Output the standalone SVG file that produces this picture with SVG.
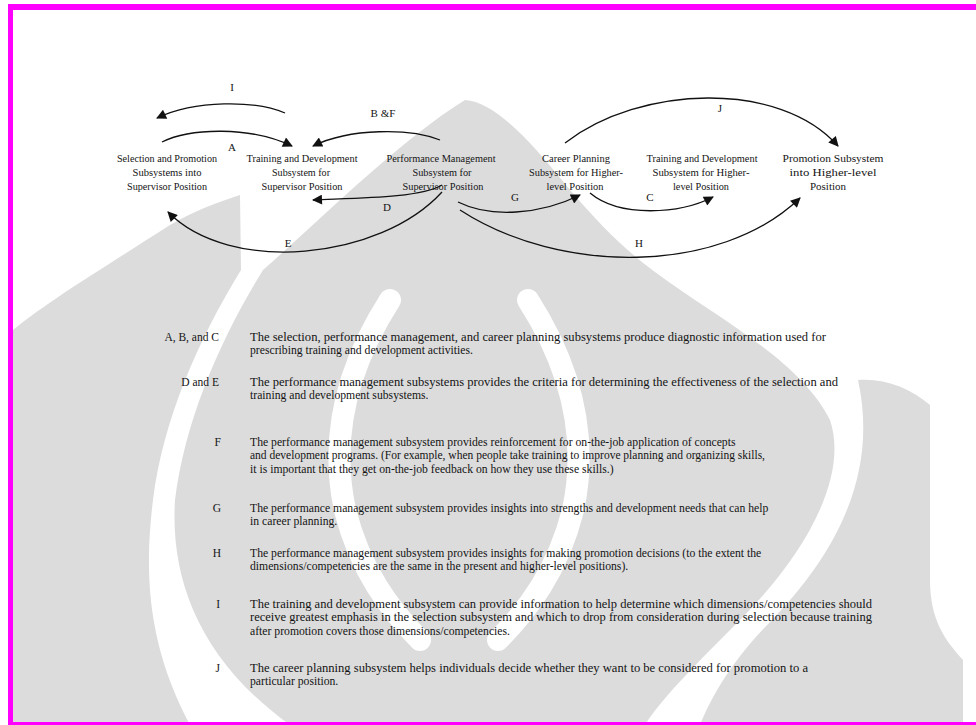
<svg xmlns="http://www.w3.org/2000/svg" width="976" height="725" viewBox="0 0 976 725">
  <style>
    .nl { font-family: "Liberation Serif", "Times New Roman", serif; font-size: 10.5px; fill: #141414; text-anchor: middle; }
    .cl { font-family: "Liberation Serif", "Times New Roman", serif; font-size: 11px; fill: #141414; text-anchor: middle; }
    .key { font-family: "Liberation Serif", "Times New Roman", serif; font-size: 11.5px; fill: #141414; text-anchor: end; }
    .txt { font-family: "Liberation Serif", "Times New Roman", serif; font-size: 11.7px; fill: #141414; }
    .edge { fill: none; stroke: #111; stroke-width: 1.3; marker-end: url(#ah); }
    .wm { fill: #dcdcdc; }
    .cut { fill: none; stroke: #ffffff; stroke-width: 22; stroke-linecap: round; }
    .frame { fill: #ff00ff; }
  </style>
  <defs>
    <marker id="ah" viewBox="0 0 10 10" refX="9" refY="5" markerWidth="12" markerHeight="10" markerUnits="userSpaceOnUse" orient="auto">
      <path d="M0,0 L10,5 L0,10 z" fill="#111"/>
    </marker>
  </defs>

  <rect width="976" height="725" fill="#ffffff"/>

  <!-- background emblem: central body, two side wings, inner curls -->
  <g id="emblem">
    <path class="wm" d="M465,100 C495,102 530,140 570,190 C600,225 625,250 655,272 C720,320 800,360 830,420 C850,480 800,560 740,620 C700,660 660,700 645,725 L290,725 C200,660 170,580 175,500 C185,420 220,340 263,270 C320,220 400,140 465,100 Z"/>
    <path class="wm" d="M13,330 C50,300 100,270 170,225 C200,208 225,200 240,195 L241,270 C198,340 163,420 153,500 C143,580 150,650 190,725 L13,725 Z"/>
    <path class="wm" d="M858,380 C880,480 830,560 770,622 C730,662 710,700 700,725 L963,725 L963,660 C945,640 930,620 930,580 L930,405 C910,388 885,378 858,380 Z"/>
    <path class="cut" d="M390,300 C345,370 330,440 345,510 C360,570 390,610 420,640"/>
    <path class="cut" d="M528,300 C573,370 588,440 573,510 C558,570 528,610 498,640"/>
  </g>

  <!-- page frame -->
  <g id="frame">
    <rect class="frame" x="8" y="4" width="968" height="6"/>
    <rect class="frame" x="8" y="4" width="5" height="721"/>
    <rect class="frame" x="8" y="722" width="968" height="3"/>
  </g>

  <!-- connectors -->
  <g id="connectors">
    <path class="edge" d="M285,113 C255,100 195,100 157,118"/>
    <path class="edge" d="M162,142 C190,128 250,126 292,146"/>
    <path class="edge" d="M440,140 C410,128 350,128 313,146"/>
    <path class="edge" d="M442,185 C420,198 360,198 313,200"/>
    <path class="edge" d="M442,192 C380,260 230,275 168,212"/>
    <path class="edge" d="M458,202 C490,218 540,215 580,195"/>
    <path class="edge" d="M590,193 C620,218 680,214 713,197"/>
    <path class="edge" d="M460,210 C560,275 720,275 800,198"/>
    <path class="edge" d="M565,143 C640,85 780,80 838,146"/>
    <text class="cl" x="232" y="91">I</text>
    <text class="cl" x="232" y="151">A</text>
    <text class="cl" x="383" y="117">B &amp;F</text>
    <text class="cl" x="387" y="211">D</text>
    <text class="cl" x="288" y="247">E</text>
    <text class="cl" x="515" y="201">G</text>
    <text class="cl" x="650" y="201">C</text>
    <text class="cl" x="639" y="247">H</text>
    <text class="cl" x="720" y="112">J</text>
  </g>

  <!-- subsystem nodes -->
  <g id="sel-promo-sup">
    <text class="nl" x="167" y="162" textLength="100" lengthAdjust="spacingAndGlyphs">Selection and Promotion</text>
    <text class="nl" x="167" y="176" textLength="69" lengthAdjust="spacingAndGlyphs">Subsystems into</text>
    <text class="nl" x="167" y="190" textLength="80" lengthAdjust="spacingAndGlyphs">Supervisor Position</text>
  </g>
  <g id="td-sup">
    <text class="nl" x="302" y="162" textLength="111" lengthAdjust="spacingAndGlyphs">Training and Development</text>
    <text class="nl" x="301" y="176" textLength="58" lengthAdjust="spacingAndGlyphs">Subsystem for</text>
    <text class="nl" x="302" y="190" textLength="81" lengthAdjust="spacingAndGlyphs">Supervisor Position</text>
  </g>
  <g id="perf-sup">
    <text class="nl" x="441" y="162" textLength="109" lengthAdjust="spacingAndGlyphs">Performance Management</text>
    <text class="nl" x="442" y="176" textLength="59" lengthAdjust="spacingAndGlyphs">Subsystem for</text>
    <text class="nl" x="443" y="190" textLength="81" lengthAdjust="spacingAndGlyphs">Supervisor Position</text>
  </g>
  <g id="career-high">
    <text class="nl" x="576" y="162" textLength="68" lengthAdjust="spacingAndGlyphs">Career Planning</text>
    <text class="nl" x="576" y="176" textLength="94" lengthAdjust="spacingAndGlyphs">Subsystem for Higher-</text>
    <text class="nl" x="575" y="190" textLength="57" lengthAdjust="spacingAndGlyphs">level Position</text>
  </g>
  <g id="td-high">
    <text class="nl" x="702" y="162" textLength="111" lengthAdjust="spacingAndGlyphs">Training and Development</text>
    <text class="nl" x="701" y="176" textLength="97" lengthAdjust="spacingAndGlyphs">Subsystem for Higher-</text>
    <text class="nl" x="701" y="190" textLength="56" lengthAdjust="spacingAndGlyphs">level Position</text>
  </g>
  <g id="promo-high">
    <text class="nl" x="833" y="162" textLength="101" lengthAdjust="spacingAndGlyphs">Promotion Subsystem</text>
    <text class="nl" x="833" y="176" textLength="87" lengthAdjust="spacingAndGlyphs">into Higher-level</text>
    <text class="nl" x="828" y="190" textLength="36" lengthAdjust="spacingAndGlyphs">Position</text>
  </g>

  <!-- key to the connectors -->
  <g id="key">
    <text class="key" x="219" y="341">A, B, and C</text>
    <text class="txt" x="250" y="341" textLength="576" lengthAdjust="spacingAndGlyphs">The selection, performance management, and career planning subsystems produce diagnostic information used for</text>
    <text class="txt" x="250" y="354">prescribing training and development activities.</text>

    <text class="key" x="219" y="386">D and E</text>
    <text class="txt" x="250" y="386" textLength="588" lengthAdjust="spacingAndGlyphs">The performance management subsystems provides the criteria for determining the effectiveness of the selection and</text>
    <text class="txt" x="250" y="399">training and development subsystems.</text>

    <text class="key" x="221" y="446">F</text>
    <text class="txt" x="250" y="446">The performance management subsystem provides reinforcement for on-the-job application of concepts</text>
    <text class="txt" x="250" y="459" textLength="515" lengthAdjust="spacingAndGlyphs">and development programs.  (For example, when people take training to improve planning and organizing skills,</text>
    <text class="txt" x="250" y="473">it is important that they get on-the-job feedback on how they use these skills.)</text>

    <text class="key" x="221" y="512">G</text>
    <text class="txt" x="250" y="512">The performance management subsystem provides insights into strengths and development needs that can help</text>
    <text class="txt" x="250" y="525">in career planning.</text>

    <text class="key" x="221" y="557">H</text>
    <text class="txt" x="250" y="557">The performance management subsystem provides insights for making promotion decisions (to the extent the</text>
    <text class="txt" x="250" y="570">dimensions/competencies are the same in the present and higher-level positions).</text>

    <text class="key" x="220" y="608">I</text>
    <text class="txt" x="250" y="608" textLength="622" lengthAdjust="spacingAndGlyphs">The training and development subsystem can provide information to help determine which dimensions/competencies should</text>
    <text class="txt" x="250" y="621" textLength="622" lengthAdjust="spacingAndGlyphs">receive greatest emphasis in the selection subsystem and which to drop from consideration during selection because training</text>
    <text class="txt" x="250" y="635">after promotion covers those dimensions/competencies.</text>

    <text class="key" x="220" y="672">J</text>
    <text class="txt" x="250" y="672" textLength="558" lengthAdjust="spacingAndGlyphs">The career planning subsystem helps individuals decide whether they want to be considered for promotion to a</text>
    <text class="txt" x="250" y="685">particular position.</text>
  </g>
</svg>
